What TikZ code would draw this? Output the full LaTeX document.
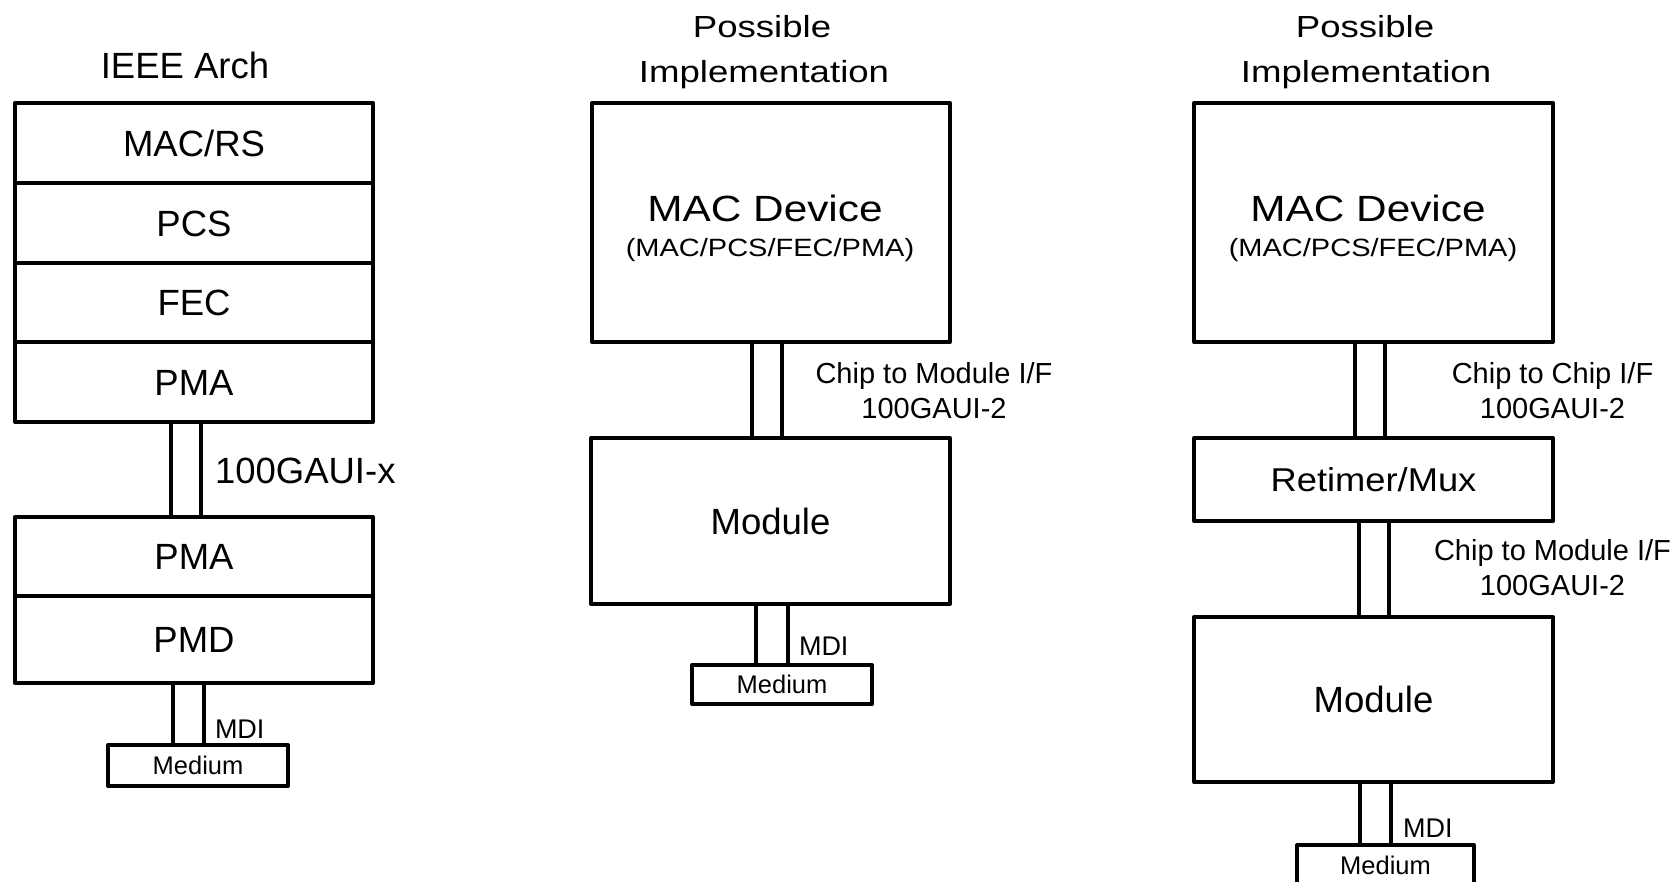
\documentclass[tikz,border=0pt]{standalone}
\usepackage{fontspec}
\setmainfont{Liberation Sans}
\begin{document}
\begin{tikzpicture}[x=1pt,y=-1pt,
  box/.style={draw,line width=4pt,inner sep=0pt,outer sep=0pt,line join=round,align=center,text height=26pt,text depth=0pt},
  smallbox/.style={box,text height=18.3pt},
  bigf/.style={font=\fontsize{36.5}{40}\selectfont},
  retf/.style={font=\fontsize{33}{38}\selectfont},
  hdrf/.style={font=\fontsize{30.5}{35}\selectfont},
  midf/.style={font=\fontsize{29}{33}\selectfont},
  parf/.style={font=\fontsize{25}{29}\selectfont},
  medf/.style={font=\fontsize{25.5}{29}\selectfont},
  mdif/.style={font=\fontsize{27}{30}\selectfont},
  lbl/.style={inner sep=0pt,outer sep=0pt,anchor=base},
  link/.style={line width=4pt}]
\useasboundingbox (0,0) rectangle (1680,881);

% ---------- IEEE Arch column ----------
\node[lbl,bigf] (ieee) at (185,78) {IEEE Arch};
\node[box,bigf,minimum width=358,minimum height=80] (macrs) at (194,143) {MAC/RS};
\node[box,bigf,minimum width=358,minimum height=80] (pcs) at (194,223) {PCS};
\node[box,bigf,minimum width=358,minimum height=79] (fec) at (194,302.5) {FEC};
\node[box,bigf,minimum width=358,minimum height=80] (pmaA) at (194,382) {PMA};
\node[box,bigf,minimum width=358,minimum height=79] (pmaB) at (194,556.5) {PMA};
\node[box,bigf,minimum width=358,minimum height=87] (pmd) at (194,639.5) {PMD};
\node[smallbox,medf,minimum width=180,minimum height=41] (medA) at (198,765.5) {Medium};

\draw[link] ([xshift=-23]pmaA.south) -- ([xshift=-23]pmaB.north);
\draw[link] ([xshift=7]pmaA.south) -- ([xshift=7]pmaB.north);
\draw[link] ([xshift=-21]pmd.south) -- ([xshift=-21]pmd.south |- medA.north);
\draw[link] ([xshift=10]pmd.south) -- ([xshift=10]pmd.south |- medA.north);

\node[lbl,bigf,anchor=base west] (gauix) at (215,483) {100GAUI-x};
\node[lbl,mdif,anchor=base west] (mdiA) at (215,738) {MDI};

% ---------- Middle column ----------
\node[lbl,hdrf] (possB) at (762,37) {\scalebox{1.2}[1]{Possible}};
\node[lbl,hdrf] (implB) at (764,82) {\scalebox{1.2}[1]{Implementation}};
\node[box,minimum width=358,minimum height=239] (macB) at (771,222.5) {};
\node[lbl,bigf] (macdevB) at (765,221) {\scalebox{1.16}[1]{MAC Device}};
\node[lbl,parf] (macsubB) at (770,256) {\scalebox{1.16}[1]{(MAC/PCS/FEC/PMA)}};
\node[box,bigf,minimum width=359,minimum height=166] (modB) at (770.5,521) {Module};
\node[smallbox,medf,minimum width=180,minimum height=39] (medB) at (782,684.5) {Medium};

\draw[link] ([xshift=-19]macB.south) -- ([xshift=-19]macB.south |- modB.north);
\draw[link] ([xshift=11]macB.south) -- ([xshift=11]macB.south |- modB.north);
\draw[link] ([xshift=-14.5]modB.south) -- ([xshift=-14.5]modB.south |- medB.north);
\draw[link] ([xshift=17.5]modB.south) -- ([xshift=17.5]modB.south |- medB.north);

\node[lbl,midf] (c2mB1) at (934,383) {Chip to Module I/F};
\node[lbl,midf] (c2mB2) at (934,418) {100GAUI-2};
\node[lbl,mdif,anchor=base west] (mdiB) at (799,655) {MDI};

% ---------- Right column ----------
\node[lbl,hdrf] (possC) at (1365,37) {\scalebox{1.2}[1]{Possible}};
\node[lbl,hdrf] (implC) at (1366,82) {\scalebox{1.2}[1]{Implementation}};
\node[box,minimum width=359,minimum height=239] (macC) at (1373.5,222.5) {};
\node[lbl,bigf] (macdevC) at (1368,221) {\scalebox{1.16}[1]{MAC Device}};
\node[lbl,parf] (macsubC) at (1373,256) {\scalebox{1.16}[1]{(MAC/PCS/FEC/PMA)}};
\node[box,retf,text height=23.6pt,minimum width=359,minimum height=83] (retC) at (1373.5,479.5) {\scalebox{1.1}[1]{Retimer/Mux}};
\node[box,bigf,minimum width=359,minimum height=165] (modC) at (1373.5,699.5) {Module};
\node[smallbox,medf,minimum width=177,minimum height=41] (medC) at (1385.5,865.5) {Medium};

\draw[link] ([xshift=-18.5]macC.south) -- ([xshift=-18.5]macC.south |- retC.north);
\draw[link] ([xshift=11.5]macC.south) -- ([xshift=11.5]macC.south |- retC.north);
\draw[link] ([xshift=-14.5]retC.south) -- ([xshift=-14.5]retC.south |- modC.north);
\draw[link] ([xshift=15.5]retC.south) -- ([xshift=15.5]retC.south |- modC.north);
\draw[link] ([xshift=-13.5]modC.south) -- ([xshift=-13.5]modC.south |- medC.north);
\draw[link] ([xshift=17.5]modC.south) -- ([xshift=17.5]modC.south |- medC.north);

\node[lbl,midf] (c2cC1) at (1552.5,383) {Chip to Chip I/F};
\node[lbl,midf] (c2cC2) at (1552.5,418) {100GAUI-2};
\node[lbl,midf] (c2mC1) at (1552.5,560) {Chip to Module I/F};
\node[lbl,midf] (c2mC2) at (1552.5,595) {100GAUI-2};
\node[lbl,mdif,anchor=base west] (mdiC) at (1403,837) {MDI};
\end{tikzpicture}
\end{document}
